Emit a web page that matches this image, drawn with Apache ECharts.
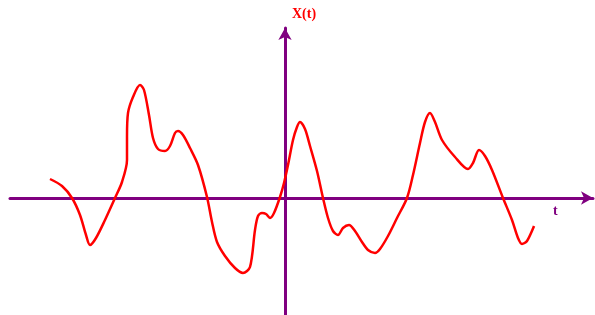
<!DOCTYPE html>
<html>
<head>
<meta charset="utf-8">
<style>html,body{margin:0;padding:0;background:#fff;}#chart{width:595px;height:315px;}</style>
<script src="https://cdn.jsdelivr.net/npm/echarts@6/dist/echarts.min.js"></script>
</head>
<body>
<div id="chart"></div>
<script>
// time values (t) and signal values X(t)
const tValues = [-235,-223,-213,-205,-199,-195,-189,-180,-170,-163,-158,-158,-157,-152,-145,-141,-136,-132,-127,-120,-115,-110,-107,-102,-95,-87,-78,-73,-68,-60,-50,-42,-35,-30,-27,-23,-19,-15,-11,-5,-1,3,8,12,15,20,25,32,38,43,48,53,58,64,70,77,83,90,95,103,112,122,128,135,140,145,150,157,170,183,188,194,200,207,218,227,233,237,242,249];
const xValues = [19,12,0,-17,-37,-47,-40,-22,0,16,38,61,85,101,113,108,83,60,49,47,52,65,67,63,50,33,1,-24,-44,-58,-70,-75,-69,-32,-18,-15,-16,-20,-15,1,15,33,58,71,76,69,52,27,0,-20,-33,-37,-30,-27,-33,-44,-52,-55,-51,-38,-20,0,23,55,76,85,76,58,41,29,35,48,42,28,0,-22,-40,-46,-43,-28];
const axisColor = '#800080';
const chart = echarts.init(document.getElementById('chart'));
chart.setOption({
  animation: false,
  grid: {left: 10, right: 2, top: 28, bottom: 0},
  xAxis: {
    type: 'value', min: -275, max: 308,
    axisLine: {onZero: true, symbol: ['none','arrow'], symbolSize: [10, 12], lineStyle: {color: axisColor, width: 3}},
    axisTick: {show: false}, axisLabel: {show: false}, splitLine: {show: false}
  },
  yAxis: {
    type: 'value', min: -117, max: 170,
    axisLine: {onZero: true, symbol: ['none','arrow'], symbolSize: [10, 12], lineStyle: {color: axisColor, width: 3}},
    axisTick: {show: false}, axisLabel: {show: false}, splitLine: {show: false}
  },
  graphic: [
    {type: 'text', left: 292, top: 7, style: {text: 'X(t)', fill: '#ff0000', font: 'bold 14px "Liberation Serif", serif'}},
    {type: 'text', left: 553, top: 204, style: {text: 't', fill: axisColor, font: 'bold 14px "Liberation Serif", serif'}}
  ],
  series: [{
    type: 'line', smooth: 0.3, showSymbol: false,
    data: tValues.map((t, i) => [t, xValues[i]]),
    lineStyle: {color: '#ff0000', width: 2.5}
  }]
});
</script>
</body>
</html>
